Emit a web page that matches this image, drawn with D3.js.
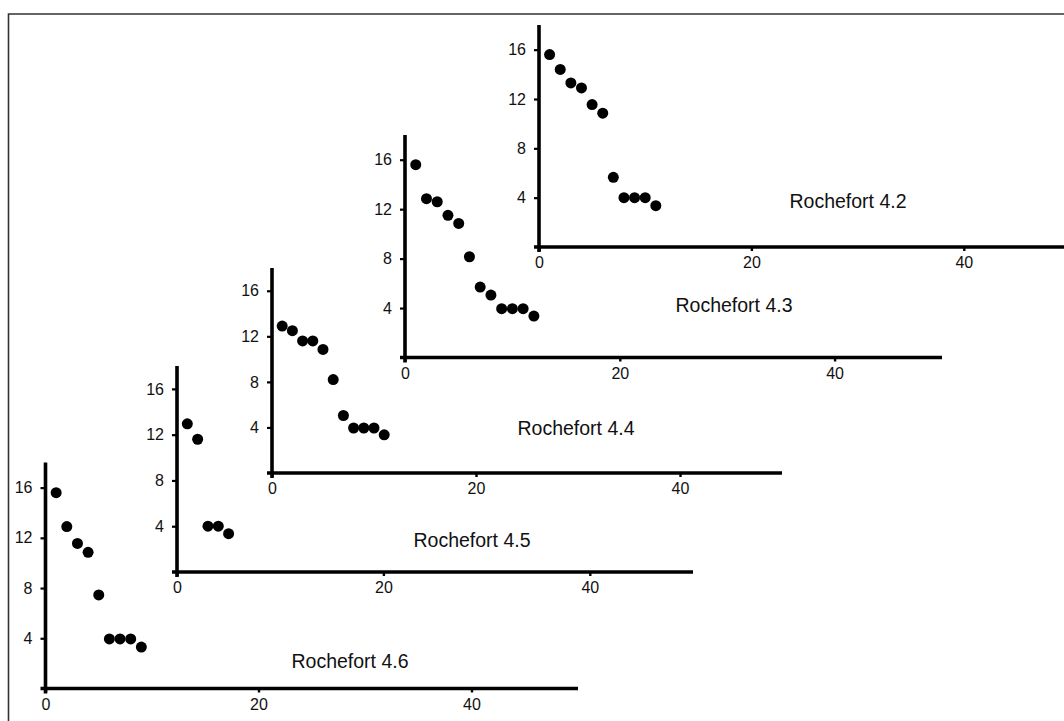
<!DOCTYPE html>
<html>
<head>
<meta charset="utf-8">
<script src="https://cdn.jsdelivr.net/npm/d3@7"></script>
<style>
  html, body { margin: 0; padding: 0; background: #fff; }
  svg { display: block; font-family: "Liberation Sans", Arial, sans-serif; }
  .tick text { font-size: 16px; font-family: "Liberation Sans", Arial, sans-serif; fill: #111; }
</style>
</head>
<body>
<div id="chart"></div>
<script>
// --- Data (one series per sample) ---
const sampleNames = ["Rochefort 4.2", "Rochefort 4.3", "Rochefort 4.4", "Rochefort 4.5", "Rochefort 4.6"];

const x42 = [1, 2, 3, 4, 5, 6, 7, 8, 9, 10, 11];
const y42 = [15.6, 14.4, 13.3, 12.9, 11.55, 10.85, 5.65, 4.0, 4.0, 4.0, 3.35];

const x43 = [1, 2, 3, 4, 5, 6, 7, 8, 9, 10, 11, 12];
const y43 = [15.6, 12.85, 12.6, 11.5, 10.85, 8.15, 5.7, 5.05, 3.95, 3.95, 3.95, 3.35];

const x44 = [1, 2, 3, 4, 5, 6, 7, 8, 9, 10, 11];
const y44 = [12.9, 12.5, 11.6, 11.6, 10.85, 8.2, 5.05, 3.95, 3.95, 3.95, 3.35];

const x45 = [1, 2, 3, 4, 5];
const y45 = [12.95, 11.6, 4.0, 4.0, 3.35];

const x46 = [1, 2, 3, 4, 5, 6, 7, 8, 9];
const y46 = [15.6, 12.9, 11.55, 10.85, 7.45, 3.95, 3.95, 3.95, 3.3];

const xTicks = [0, 20, 40];
const yTicks = [4, 8, 12, 16];
const xDomain = [0, 50];
const yDomain = [0, 18];

// --- Layout of each panel (pixel placement on the page) ---
const panels = [
  { name: sampleNames[0], xs: x42, ys: y42, left: 539, right: 1070, bottom: 247, top: 25, label: [848, 201] },
  { name: sampleNames[1], xs: x43, ys: y43, left: 405, right: 942, bottom: 357.5, top: 135, label: [734, 305] },
  { name: sampleNames[2], xs: x44, ys: y44, left: 272, right: 782, bottom: 473, top: 268, label: [576, 428] },
  { name: sampleNames[3], xs: x45, ys: y45, left: 177, right: 693, bottom: 572, top: 366, label: [472, 540] },
  { name: sampleNames[4], xs: x46, ys: y46, left: 45.5, right: 578, bottom: 688.5, top: 462.5, label: [350, 661] }
];

const width = 1064, height = 721;

const svg = d3.select("#chart").append("svg")
  .attr("width", width)
  .attr("height", height);

svg.append("rect").attr("width", width).attr("height", height).attr("fill", "#fff");

// frame round the figure
svg.append("path")
  .attr("d", `M8.5,${height + 2}V14H${width + 2}`)
  .attr("fill", "none")
  .attr("stroke", "#333")
  .attr("stroke-width", 1.6);

panels.forEach(p => {
  const x = d3.scaleLinear().domain(xDomain).range([p.left, p.right]);
  const y = d3.scaleLinear().domain(yDomain).range([p.bottom, p.top]);
  const g = svg.append("g");

  // x axis
  const xAxis = g.append("g")
    .attr("transform", `translate(0,${p.bottom})`)
    .call(d3.axisBottom(x).tickValues(xTicks).tickSize(4).tickSizeOuter(0).tickPadding(6));
  xAxis.select(".domain")
    .attr("d", `M${p.left - 5},0H${p.right}`)
    .attr("stroke", "#000")
    .attr("stroke-width", 3.6);
  xAxis.selectAll(".tick line").attr("stroke", "#000").attr("stroke-width", 2.4);

  // y axis
  const yAxis = g.append("g")
    .attr("transform", `translate(${p.left},0)`)
    .call(d3.axisLeft(y).tickValues(yTicks).tickSize(5).tickSizeOuter(0).tickPadding(8));
  yAxis.select(".domain")
    .attr("d", `M0,${p.top}V${p.bottom + 5}`)
    .attr("stroke", "#000")
    .attr("stroke-width", 3.6);
  yAxis.selectAll(".tick line").attr("stroke", "#000").attr("stroke-width", 2.2);

  // points
  g.selectAll("circle")
    .data(p.xs.map((v, i) => ({ x: v, y: p.ys[i] })))
    .enter().append("circle")
    .attr("cx", d => x(d.x))
    .attr("cy", d => y(d.y))
    .attr("r", 5.5)
    .attr("fill", "#000");

  // sample label
  g.append("text")
    .attr("x", p.label[0])
    .attr("y", p.label[1])
    .attr("dy", "0.35em")
    .attr("text-anchor", "middle")
    .attr("fill", "#111")
    .style("font-size", "19.5px")
    .text(p.name);
});
</script>
</body>
</html>
